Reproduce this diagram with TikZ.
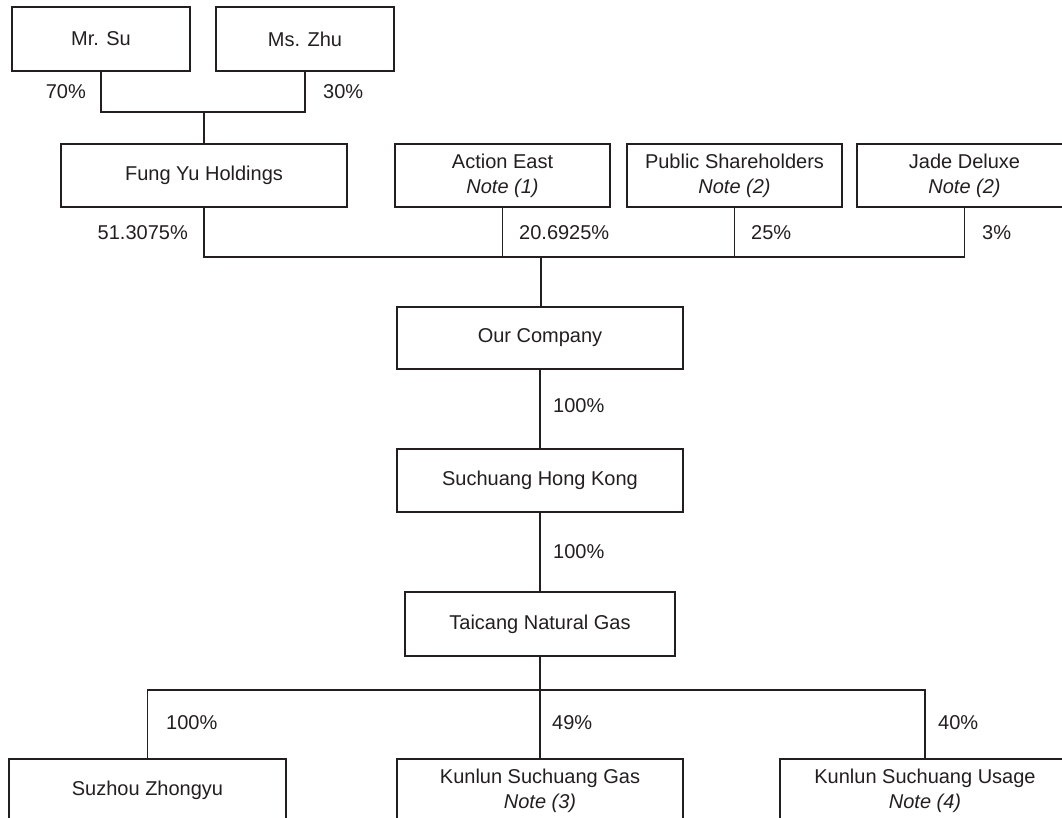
\documentclass[tikz,border=0pt]{standalone}
\usepackage{fontspec}
\setmainfont{Liberation Sans}
\definecolor{ink}{RGB}{35,31,32}
\begin{document}
\begin{tikzpicture}[x=1pt,y=-1pt,
  box/.style={draw=ink, text=ink, line width=1.2pt, inner sep=0pt, align=center, font=\fontsize{20}{25}\selectfont},
  pct/.style={text=ink, inner sep=0pt, font=\fontsize{20}{24}\selectfont},
  link/.style={draw=ink, line width=1.2pt}]
\useasboundingbox (0,0) rectangle (1062,817);
\fill[white] (0,0) rectangle (1062,817);
% row 1
\node[box, minimum width=178pt, minimum height=64pt] (su)  at (101,39)   {Mr. Su};
\node[box, minimum width=178pt, minimum height=64pt] (zhu) at (305,39)   {Ms. Zhu};
% row 2
\node[box, minimum width=286pt, minimum height=63pt] (fy)   at (204,175.5)   {Fung Yu Holdings};
\node[box, minimum width=215pt, minimum height=63pt] (ae)   at (502.5,175.5) {Action East\\\textit{Note (1)}};
\node[box, minimum width=215pt, minimum height=63pt] (ps)   at (734.5,175.5) {Public Shareholders\\\textit{Note (2)}};
\node[box, minimum width=215pt, minimum height=63pt] (jade) at (964.5,175.5) {Jade Deluxe\\\textit{Note (2)}};
% chain
\node[box, minimum width=286pt, minimum height=62pt] (oc)  at (540,338)   {Our Company};
\node[box, minimum width=286pt, minimum height=63pt] (shk) at (540,480.5) {Suchuang Hong Kong};
\node[box, minimum width=270pt, minimum height=64pt] (tc)  at (540,624)   {Taicang Natural Gas};
% bottom row
\node[box, minimum width=277pt, minimum height=63pt] (sz)  at (147.5,790.5) {Suzhou Zhongyu};
\node[box, minimum width=286pt, minimum height=63pt] (kg)  at (540,790.5)   {Kunlun Suchuang Gas\\\textit{Note (3)}};
\node[box, minimum width=290pt, minimum height=63pt] (ku)  at (925,790.5)   {Kunlun Suchuang Usage\\\textit{Note (4)}};
% junctions
\coordinate (jA) at (204,112);
\coordinate (jB) at (541,257);
\coordinate (jC) at (540,690);
% connectors
\draw[link] (su.south) |- (jA) -| (zhu.south);
\draw[link] (jA) -- (fy.north);
\draw[link] (fy.south) |- (jB) -| (jade.south);
\draw[link] (ae.south) -- (ae.south |- jB);
\draw[link] (ps.south) -- (ps.south |- jB);
\draw[link] (jB) -- (jB |- oc.north);
\draw[link] (oc.south) -- (shk.north);
\draw[link] (shk.south) -- (tc.north);
\draw[link] (tc.south) -- (jC);
\draw[link] (sz.north) |- (jC) -| (ku.north);
\draw[link] (jC) -- (kg.north);
% labels
\node[pct, anchor=east] (l70) at (86,92)   {70\%};
\node[pct, anchor=west] (l30) at (323,92)  {30\%};
\node[pct, anchor=east] (l51) at (188,233) {51.3075\%};
\node[pct, anchor=west] (l20) at (519,233) {20.6925\%};
\node[pct, anchor=west] (l25) at (751,233) {25\%};
\node[pct, anchor=west] (l3)  at (982,233) {3\%};
\node[pct, anchor=west] (l100a) at (553,406) {100\%};
\node[pct, anchor=west] (l100b) at (553,552) {100\%};
\node[pct, anchor=west] (l100c) at (166,723) {100\%};
\node[pct, anchor=west] (l49) at (552,723) {49\%};
\node[pct, anchor=west] (l40) at (938,723) {40\%};
\end{tikzpicture}
\end{document}
